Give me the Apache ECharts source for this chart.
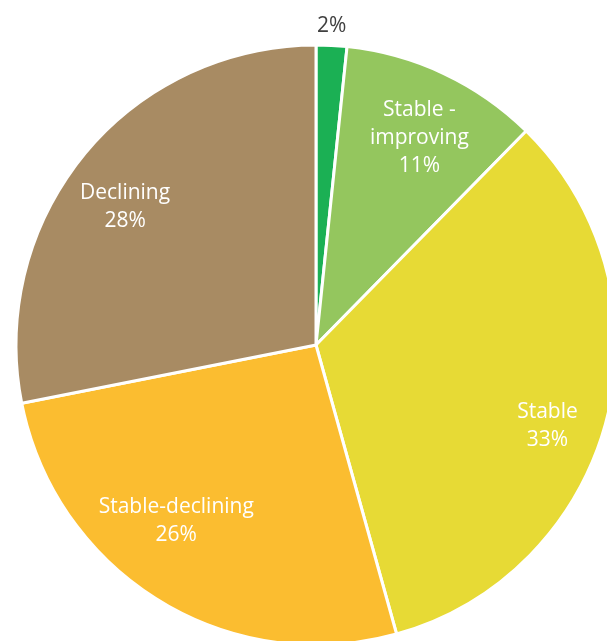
<!DOCTYPE html>
<html>
<head>
<meta charset="utf-8">
<script src="https://cdn.jsdelivr.net/npm/echarts@6/dist/echarts.min.js"></script>
<style>
html,body{margin:0;padding:0;background:#fff;}
#chart{width:607px;height:641px;}
</style>
</head>
<body>
<div id="chart"></div>
<script>
var categories = ["", "Stable -\nimproving", "Stable", "Stable-declining", "Declining"];
var values = [1.65, 10.7, 33.3, 26.2, 28.1];
var percentLabels = ["2%", "11%", "33%", "26%", "28%"];
var colors = ["#1bb054", "#94c65e", "#e7da35", "#fbbd30", "#a88b63"];
var labelOffsets = [[-1, 4], [2, 8], [1, 22], [-15, -27], [-7, 13]];

var chart = echarts.init(document.getElementById('chart'), null, {renderer: 'canvas'});

function nm(i) { return categories[i] || ('s' + i); }
var mainData = values.map(function (v, i) {
  return { value: v, name: nm(i), itemStyle: { color: colors[i] } };
});
var innerLabelData = values.map(function (v, i) {
  return { value: v, name: nm(i), label: { show: i !== 0, offset: labelOffsets[i] } };
});
var outerLabelData = values.map(function (v, i) {
  return { value: v, name: nm(i), label: { show: i === 0, offset: labelOffsets[i] } };
});

var font = '"Open Sans", "Noto Sans", sans-serif';

chart.setOption({
  animation: false,
  series: [
    {
      type: 'pie',
      center: [316, 345],
      radius: [0, 300],
      startAngle: 90,
      clockwise: true,
      silent: true,
      label: { show: false },
      labelLine: { show: false },
      itemStyle: { borderColor: '#ffffff', borderWidth: 3 },
      data: mainData
    },
    {
      type: 'pie',
      center: [316, 345],
      radius: [170, 300],
      startAngle: 90,
      clockwise: true,
      silent: true,
      itemStyle: { color: 'rgba(0,0,0,0)', borderWidth: 0 },
      labelLine: { show: false },
      label: {
        position: 'inside',
        color: '#ffffff',
        fontFamily: font,
        fontSize: 21,
        lineHeight: 28,
        align: 'center',
        formatter: function (p) {
          var n = categories[p.dataIndex];
          return (n ? n + '\n' : '') + percentLabels[p.dataIndex];
        }
      },
      data: innerLabelData
    },
    {
      type: 'pie',
      center: [316, 345],
      radius: [300, 340],
      startAngle: 90,
      clockwise: true,
      silent: true,
      itemStyle: { color: 'rgba(0,0,0,0)', borderWidth: 0 },
      labelLine: { show: false },
      label: {
        position: 'inside',
        color: '#404040',
        fontFamily: font,
        fontSize: 21,
        formatter: function (p) { return percentLabels[p.dataIndex]; }
      },
      data: outerLabelData
    }
  ]
});
</script>
</body>
</html>
